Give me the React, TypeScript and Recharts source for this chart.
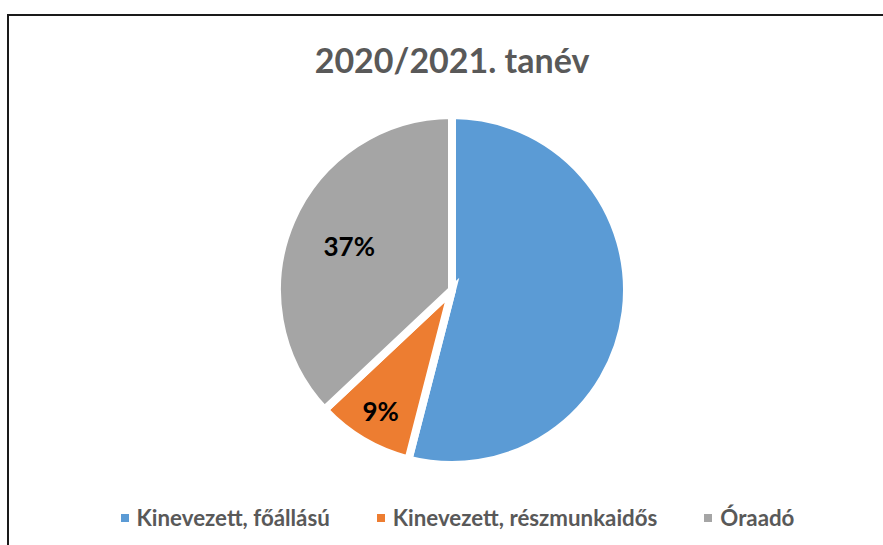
import React from "react";
import { PieChart, Pie, Cell, Legend } from "recharts";

const title = "2020/2021. tanév";
const categories = ["Kinevezett, főállású", "Kinevezett, részmunkaidős", "Óraadó"];
const values = [54, 9, 37];
const showLabel = [false, true, true];
const colors = ["#5B9BD5", "#ED7D31", "#A5A5A5"];

const data = categories.map((name, i) => ({ name, value: values[i] }));

const RADIAN = Math.PI / 180;
const labelRadiusFactor = [0.7, 0.8, 0.64];

const renderLabel = (props: any) => {
  const { cx, cy, midAngle, outerRadius, percent, index } = props;
  if (!showLabel[index]) return null;
  const r = outerRadius * labelRadiusFactor[index];
  const x = cx + r * Math.cos(-midAngle * RADIAN);
  const y = cy + r * Math.sin(-midAngle * RADIAN);
  return (
    <text
      x={x}
      y={y}
      fill="#000"
      textAnchor="middle"
      dominantBaseline="central"
      style={{ fontFamily: "Lato, sans-serif", fontWeight: 700, fontSize: 26 }}
    >
      {`${Math.round(percent * 100)}%`}
    </text>
  );
};

const renderLegend = () => (
  <div
    style={{
      display: "flex",
      justifyContent: "center",
      gap: 47,
      fontFamily: "Lato, sans-serif",
      fontWeight: 700,
      fontSize: 22.3,
      color: "#595959",
    }}
  >
    {categories.map((c, i) => (
      <div key={c} style={{ display: "flex", alignItems: "center" }}>
        <span
          style={{
            display: "inline-block",
            width: 8,
            height: 8,
            background: colors[i],
            marginRight: 8,
          }}
        />
        <span>{c}</span>
      </div>
    ))}
  </div>
);

export default function App() {
  return (
    <div
      style={{
        position: "absolute",
        left: 0,
        top: 0,
        width: 883,
        height: 545,
        overflow: "hidden",
        background: "#fff",
      }}
    >
      <div
        style={{
          position: "absolute",
          left: 7,
          top: 14,
          width: 1000,
          height: 1000,
          border: "2px solid #1a1a1a",
        }}
      />
      <div
        style={{
          position: "absolute",
          left: 0,
          top: 40,
          width: 904,
          textAlign: "center",
          fontFamily: "Lato, sans-serif",
          fontWeight: 700,
          fontSize: 34,
          color: "#595959",
          lineHeight: "40px",
        }}
      >
        {title}
      </div>
      <div style={{ position: "absolute", left: 0, top: 0 }}>
        <PieChart width={883} height={545}>
          <Pie
            data={data}
            dataKey="value"
            nameKey="name"
            cx={447}
            cy={285}
            outerRadius={175}
            startAngle={90}
            endAngle={-270}
            stroke="#fff"
            strokeWidth={8}
            label={renderLabel}
            labelLine={false}
            isAnimationActive={false}
          >
            {data.map((d, i) => (
              <Cell key={d.name} fill={colors[i]} />
            ))}
          </Pie>
          <Legend
            content={renderLegend}
            wrapperStyle={{ position: "absolute", top: 504, left: 0, width: 915 }}
          />
        </PieChart>
      </div>
    </div>
  );
}
